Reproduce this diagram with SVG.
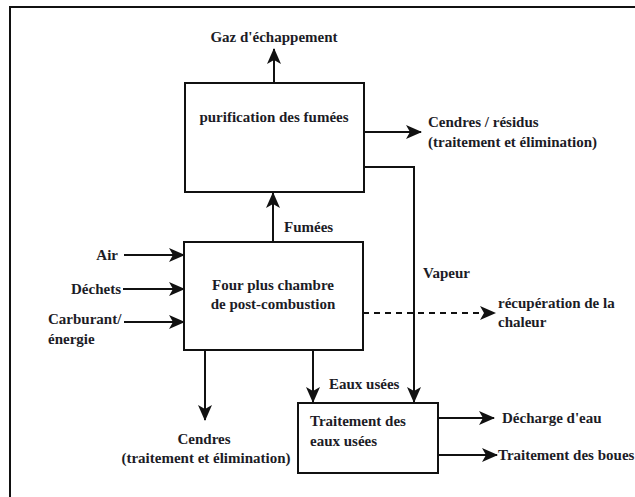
<svg xmlns="http://www.w3.org/2000/svg" width="635" height="497" viewBox="0 0 635 497">
<defs>
<marker id="ah" viewBox="0 0 16 14" refX="15" refY="7" markerWidth="16" markerHeight="14" markerUnits="userSpaceOnUse" orient="auto">
<path d="M0,0 L16,7 L0,14 L4,7 z" fill="#111"/>
</marker>
<style>
text{font-family:'Liberation Serif','DejaVu Serif',serif;font-weight:bold;font-size:15px;fill:#1c1c26}
.c{text-anchor:middle}
.e{text-anchor:end}
.box{fill:#fff;stroke:#111;stroke-width:2}
.ln{fill:none;stroke:#111;stroke-width:2}
.ar{fill:none;stroke:#111;stroke-width:2;marker-end:url(#ah)}
.dash{stroke-dasharray:6,5}
</style>
</defs>
<rect width="635" height="497" fill="#fff"/>
<path class="ln" d="M10,497 L10,7 L635,7" stroke-width="2.5"/>

<g id="connectors">
<line class="ar" x1="274" y1="83" x2="274" y2="49"/>
<line class="ar" x1="364" y1="132" x2="421" y2="132"/>
<polyline class="ar" points="364,167 414,167 414,402"/>
<line class="ar" x1="273" y1="242" x2="273" y2="193"/>
<line class="ar" x1="124" y1="255" x2="184" y2="255"/>
<line class="ar" x1="123" y1="289" x2="184" y2="289"/>
<line class="ar" x1="124" y1="322" x2="184" y2="322"/>
<line class="ar dash" x1="363" y1="313" x2="495" y2="313"/>
<line class="ar" x1="205" y1="350" x2="205" y2="420"/>
<line class="ar" x1="313" y1="350" x2="313" y2="402"/>
<line class="ar" x1="438" y1="418" x2="494" y2="418"/>
<line class="ar" x1="438" y1="455" x2="497" y2="455"/>
</g>

<g font-family="'Liberation Serif', 'DejaVu Serif', serif">
<g id="purification">
<rect class="box" x="185" y="83" width="179" height="109"/>
<text class="c" x="274" y="122">purification des fumées</text>
</g>
<g id="four">
<rect class="box" x="184" y="242" width="179" height="108"/>
<text class="c" x="273" y="290">Four plus chambre</text>
<text class="c" x="273" y="309">de post-combustion</text>
</g>
<g id="traitement">
<rect class="box" x="298" y="403" width="140" height="70"/>
<text x="310" y="426">Traitement des</text>
<text x="310" y="446">eaux usées</text>
</g>

<g id="labels">
<text class="c" x="274" y="42">Gaz d'échappement</text>
<text x="428" y="127">Cendres / résidus</text>
<text x="428" y="147">(traitement et élimination)</text>
<text x="284" y="232">Fumées</text>
<text class="e" x="118" y="260">Air</text>
<text class="e" x="121" y="294">Déchets</text>
<text x="48" y="324">Carburant/</text>
<text x="48" y="344">énergie</text>
<text x="423" y="278">Vapeur</text>
<text x="498" y="308">récupération de la</text>
<text x="498" y="327">chaleur</text>
<text x="329" y="389">Eaux usées</text>
<text class="c" x="204" y="444">Cendres</text>
<text class="c" x="206" y="463">(traitement et élimination)</text>
<text x="502" y="423">Décharge d'eau</text>
<text x="498" y="460">Traitement des boues</text>
</g>
</g>
</svg>
